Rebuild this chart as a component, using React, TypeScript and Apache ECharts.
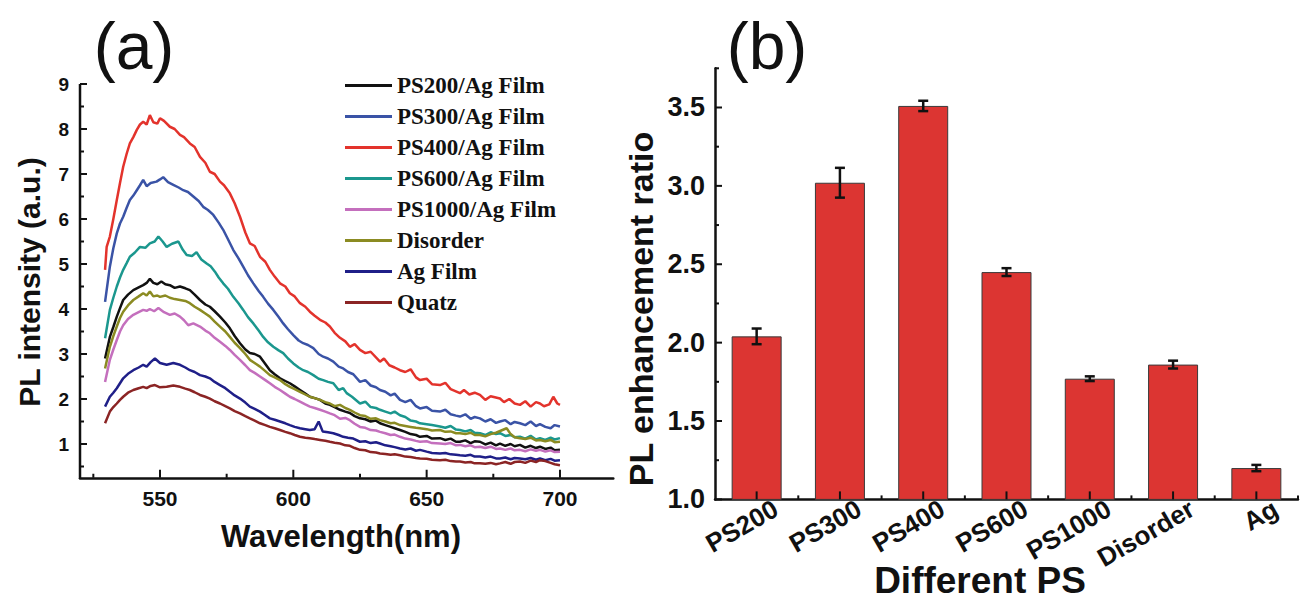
import React, { useEffect, useRef } from 'react';
import * as echarts from 'echarts';

// ---------- Panel (a): PL spectra, [wavelength nm, intensity a.u.] ----------
const ps200Film = [[529.4,2.9],[531.2,3.38],[532.5,3.6],[533.8,3.83],[535,4.02],[536.2,4.2],[538,4.32],[540,4.42],[542,4.48],[543.7,4.53],[545,4.58],[546.2,4.67],[547.5,4.58],[549,4.55],[550.5,4.61],[552,4.55],[553.7,4.53],[555.5,4.47],[557.5,4.5],[559.5,4.46],[561.2,4.42],[563,4.32],[565,4.2],[567,4.1],[568.7,4.05],[570.5,3.95],[572.5,3.83],[574.5,3.7],[576.2,3.57],[578,3.4],[580,3.24],[582,3.1],[583.7,3.02],[585.5,3.0],[587.5,2.94],[589.5,2.78],[591.2,2.64],[593,2.55],[595,2.46],[597,2.4],[598.7,2.35],[600.5,2.28],[602.5,2.2],[604.5,2.12],[606.2,2.05],[608,2.02],[610,1.98],[612,1.9],[613.7,1.87],[615.5,1.82],[617.5,1.76],[619.5,1.72],[621.2,1.69],[623,1.62],[625,1.57],[627,1.55],[629,1.5],[631,1.52],[632.5,1.46],[634.5,1.42],[636.5,1.38],[638,1.35],[640,1.31],[642,1.27],[644,1.22],[646,1.2],[647.5,1.16],[650,1.18],[652,1.12],[655,1.13],[657,1.09],[659,1.12],[661,1.05],[662.5,1.05],[664.5,1.08],[666.5,1.02],[668,1.06],[670,1.05],[672,0.99],[674,1.03],[676,0.97],[677.5,1.01],[679.5,0.96],[681.5,1.0],[683,0.95],[685,0.98],[687,0.92],[689,0.96],[691,0.91],[692.5,0.94],[694.5,0.89],[696.5,0.92],[698,0.86],[700,0.87]];
const ps300Film = [[529.4,4.16],[531.2,4.94],[532.5,5.35],[533.8,5.68],[535,5.9],[536.2,6.05],[537.5,6.25],[538.7,6.42],[540,6.52],[541.3,6.64],[542.5,6.75],[543.7,6.87],[545,6.73],[546.5,6.8],[548.7,6.83],[550,6.88],[551.2,6.93],[553,6.82],[555,6.76],[557,6.7],[558.7,6.64],[560.5,6.6],[562.5,6.5],[564.5,6.4],[566.2,6.27],[568,6.2],[570,6.09],[572,5.92],[573.7,5.76],[575.5,5.55],[577.5,5.31],[579.5,5.12],[581.2,4.94],[583,4.75],[585,4.57],[587,4.4],[588.7,4.27],[590.5,4.12],[592.5,3.98],[594.5,3.82],[596.2,3.68],[598,3.55],[600,3.42],[602,3.3],[603.7,3.24],[605.5,3.2],[607.5,3.13],[609.5,3.0],[611.2,2.94],[613,2.9],[615,2.83],[617,2.72],[618.7,2.68],[620.5,2.6],[622.5,2.55],[625,2.38],[627,2.42],[629,2.3],[631,2.26],[632.5,2.2],[634.5,2.16],[636.5,2.08],[638,2.12],[640,1.98],[642,1.93],[644,1.98],[646,1.84],[647.5,1.79],[650,1.82],[652,1.74],[655,1.72],[657,1.76],[659,1.66],[661,1.63],[662.5,1.61],[664.5,1.66],[666.5,1.56],[668,1.6],[670,1.57],[672,1.5],[674,1.55],[676,1.47],[677.5,1.5],[679.5,1.53],[681.5,1.44],[683,1.49],[685,1.46],[687,1.42],[689,1.5],[691,1.4],[692.5,1.44],[694.5,1.38],[696.5,1.35],[698,1.42],[700,1.39]];
const ps400Film = [[529.4,4.87],[530,5.38],[531.2,5.61],[532.5,6.0],[533.8,6.42],[535,6.8],[536.2,7.16],[537.5,7.45],[538.7,7.68],[540,7.82],[541.3,7.98],[542.5,8.1],[543.7,8.16],[545,8.1],[546.2,8.31],[547.5,8.15],[549,8.12],[550,8.24],[551.5,8.18],[553.7,8.05],[555.5,8.0],[557.5,7.87],[559,7.82],[561.2,7.68],[563,7.6],[565,7.38],[567,7.25],[568.7,7.05],[570.5,7.0],[572.5,6.83],[574,6.75],[576.2,6.57],[578,6.35],[580,6.05],[582,5.7],[583.7,5.46],[585.5,5.4],[587.5,5.16],[589.5,5.05],[591.2,4.87],[593,4.72],[595,4.57],[597,4.5],[598.7,4.35],[600.5,4.28],[602.5,4.13],[604.5,4.05],[606.2,3.94],[608,3.85],[610,3.76],[612,3.7],[613.7,3.61],[615.5,3.47],[617.5,3.36],[619.5,3.28],[621.2,3.16],[623,3.22],[625,3.09],[627,3.02],[629,3.05],[632.5,2.83],[634,2.9],[636,2.75],[638,2.7],[640,2.64],[642,2.6],[644,2.66],[646,2.48],[647.5,2.42],[650,2.45],[652,2.33],[655,2.31],[657,2.36],[659,2.22],[662.5,2.13],[664,2.2],[666,2.1],[668,2.14],[670,2.09],[672,1.98],[674,2.06],[677.5,2.01],[679,1.93],[681,2.0],[683,1.9],[685,1.87],[687,1.95],[689,1.83],[691,1.93],[692.5,1.9],[694,1.84],[696,1.88],[697.5,2.05],[699,1.9],[700,1.87]];
const ps600Film = [[529.4,3.35],[531.2,3.98],[532.5,4.25],[533.8,4.5],[535,4.7],[536.2,4.87],[537.5,5.02],[538.7,5.16],[540.5,5.25],[542.5,5.38],[544.5,5.36],[546.2,5.46],[548,5.5],[549.4,5.61],[551,5.5],[552.5,5.38],[554.5,5.45],[556.9,5.5],[558.5,5.32],[560,5.2],[562,5.18],[563.7,5.26],[565.5,5.1],[567.5,5.01],[569,4.95],[570.6,4.83],[572,4.7],[573.7,4.57],[575.5,4.45],[577.5,4.27],[579.5,4.12],[581.2,3.98],[583,3.82],[585,3.68],[587,3.52],[588.7,3.38],[590.5,3.26],[592.5,3.16],[594.5,3.08],[596.2,3.02],[598,2.9],[600,2.79],[602,2.7],[603.7,2.64],[605.5,2.6],[607.5,2.53],[609.5,2.45],[611.2,2.42],[613,2.38],[615,2.35],[617,2.2],[618.7,2.24],[620,2.13],[622,2.05],[625,1.9],[627,1.94],[629,1.82],[631,1.8],[632.5,1.76],[634.5,1.72],[636.5,1.68],[638,1.72],[640,1.64],[642,1.6],[644,1.52],[646,1.5],[647.5,1.46],[650,1.44],[652,1.42],[655,1.39],[657,1.36],[659,1.4],[661,1.32],[662.5,1.31],[664.5,1.28],[666.5,1.31],[668,1.25],[670,1.24],[672,1.2],[674,1.26],[676,1.22],[677.5,1.24],[679.5,1.18],[681.5,1.2],[683,1.15],[685,1.16],[687,1.12],[689,1.18],[691,1.1],[692.5,1.13],[694.5,1.09],[696.5,1.14],[698,1.1],[700,1.13]];
const ps1000Film = [[529.4,2.38],[531.2,2.87],[532.5,3.1],[533.8,3.31],[535,3.5],[536.2,3.64],[538,3.78],[540,3.87],[542,3.93],[543.7,3.98],[545,3.96],[546.2,4.0],[547.8,3.95],[549.4,4.02],[551.5,3.93],[553.7,3.87],[555.5,3.9],[557.5,3.83],[559,3.75],[560.6,3.64],[562.5,3.68],[565,3.61],[567,3.52],[568.7,3.46],[570.5,3.36],[572.5,3.27],[574.5,3.18],[576.2,3.09],[578,2.98],[580,2.87],[582,2.75],[583.7,2.64],[585.5,2.58],[587.5,2.5],[589.5,2.42],[591.2,2.35],[593,2.27],[595,2.2],[597,2.12],[598.7,2.05],[600.5,2.0],[602.5,1.94],[604.5,1.88],[606.2,1.83],[608,1.8],[610,1.76],[612,1.72],[613.7,1.68],[615.5,1.64],[617.5,1.56],[619.5,1.58],[621.2,1.53],[623,1.45],[625,1.38],[627,1.36],[629,1.31],[631,1.3],[632.5,1.27],[634.5,1.24],[636.5,1.2],[638,1.21],[640,1.16],[642,1.12],[644,1.1],[646,1.07],[647.5,1.05],[650,1.06],[652,1.02],[655,1.01],[657,1.0],[659,1.02],[661,0.97],[662.5,0.98],[664.5,0.95],[666.5,0.97],[668,0.93],[670,0.94],[672,0.91],[674,0.94],[676,0.89],[677.5,0.9],[679.5,0.87],[681.5,0.9],[683,0.86],[685,0.87],[687,0.84],[689,0.88],[691,0.85],[692.5,0.87],[694.5,0.83],[696.5,0.86],[698,0.82],[700,0.83]];
const disorder = [[529.4,2.68],[531.2,3.16],[532.5,3.4],[533.8,3.61],[535,3.8],[536.2,3.94],[538,4.08],[540,4.2],[542,4.28],[543.7,4.35],[545,4.3],[546.2,4.39],[547.5,4.28],[549,4.3],[550,4.27],[552,4.3],[553.7,4.25],[555.5,4.22],[557.5,4.2],[559.5,4.18],[561.2,4.13],[563,4.05],[565,3.98],[567,3.9],[568.7,3.83],[570.5,3.72],[572.5,3.61],[574.5,3.5],[576.2,3.38],[578,3.25],[580,3.13],[582,3.0],[583.7,2.87],[585.5,2.8],[587.5,2.72],[589.5,2.62],[591.2,2.53],[593,2.48],[595,2.42],[597,2.33],[598.7,2.27],[600.5,2.22],[602.5,2.16],[604.5,2.1],[606.2,2.05],[608,2.02],[610,1.98],[612,1.93],[613.7,1.9],[615.5,1.84],[617.5,1.87],[619.5,1.8],[621.2,1.76],[623,1.7],[625,1.64],[627,1.62],[629,1.56],[631,1.57],[632.5,1.53],[634.5,1.5],[636.5,1.46],[638,1.47],[640,1.42],[642,1.4],[644,1.38],[646,1.36],[647.5,1.35],[650,1.33],[652,1.3],[655,1.31],[657,1.27],[659,1.28],[661,1.24],[662.5,1.24],[664.5,1.22],[666.5,1.25],[668,1.2],[670,1.2],[672,1.17],[674,1.22],[676,1.25],[678,1.3],[680,1.35],[681.5,1.22],[683,1.15],[685,1.13],[687,1.11],[689,1.14],[691,1.08],[692.5,1.09],[694.5,1.06],[696.5,1.09],[698,1.04],[700,1.05]];
const agFilm = [[529.4,1.83],[531.2,2.05],[532.5,2.14],[533.8,2.24],[535,2.35],[536.2,2.46],[538,2.56],[540,2.64],[542,2.7],[543.7,2.76],[545,2.72],[546.5,2.82],[548.1,2.9],[550,2.8],[552.5,2.76],[555,2.8],[557.5,2.76],[559.5,2.7],[561.2,2.64],[563,2.6],[565,2.53],[567,2.5],[568.7,2.46],[570.5,2.38],[572.5,2.31],[574.5,2.24],[576.2,2.16],[578,2.08],[580,2.01],[582,1.92],[583.7,1.83],[585.5,1.78],[587.5,1.72],[589.5,1.64],[591.2,1.57],[593,1.54],[595,1.5],[597,1.46],[598.7,1.42],[600.5,1.38],[602.5,1.35],[604.5,1.33],[606.2,1.31],[608,1.33],[609.5,1.5],[611,1.28],[613,1.26],[615,1.24],[617,1.2],[618.7,1.16],[620.5,1.14],[622.5,1.12],[625,1.05],[627,1.06],[629,1.02],[631,1.04],[632.5,1.01],[634.5,0.97],[636.5,0.95],[638,0.93],[640,0.9],[642,0.88],[644,0.9],[646,0.85],[647.5,0.87],[650,0.83],[652,0.8],[655,0.79],[657,0.8],[659,0.77],[661,0.76],[662.5,0.75],[664.5,0.74],[666.5,0.76],[668,0.72],[670,0.72],[672,0.7],[674,0.72],[676,0.68],[677.5,0.68],[679.5,0.7],[681.5,0.66],[683,0.69],[685,0.68],[687,0.66],[689,0.69],[691,0.65],[692.5,0.68],[694.5,0.64],[696.5,0.67],[698,0.63],[700,0.64]];
const quatz = [[529.4,1.46],[531.2,1.72],[532.5,1.82],[533.8,1.9],[535,1.98],[536.2,2.05],[538,2.14],[540,2.2],[542,2.24],[543.7,2.27],[545,2.24],[546.5,2.29],[548.1,2.31],[550,2.26],[552.5,2.27],[555,2.3],[557.5,2.27],[559.5,2.23],[561.2,2.2],[563,2.15],[565,2.09],[567,2.05],[568.7,2.01],[570.5,1.95],[572.5,1.9],[574.5,1.84],[576.2,1.79],[578,1.73],[580,1.68],[582,1.62],[583.7,1.57],[585.5,1.52],[587.5,1.46],[589.5,1.42],[591.2,1.38],[593,1.35],[595,1.31],[597,1.27],[598.7,1.24],[600.5,1.2],[602.5,1.16],[604.5,1.14],[606.2,1.13],[608,1.11],[610,1.09],[612,1.07],[613.7,1.05],[615.5,1.03],[617.5,1.01],[619.5,0.97],[621.2,0.96],[623,0.91],[625,0.87],[627,0.86],[629,0.82],[631,0.81],[632.5,0.79],[634.5,0.78],[636.5,0.76],[638,0.77],[640,0.75],[642,0.72],[644,0.71],[646,0.69],[647.5,0.68],[650,0.67],[652,0.65],[655,0.64],[657,0.65],[659,0.62],[661,0.61],[662.5,0.61],[664.5,0.59],[666.5,0.6],[668,0.57],[670,0.57],[672,0.56],[674,0.58],[676,0.55],[677.5,0.57],[679.5,0.6],[681.5,0.56],[683,0.6],[685,0.61],[687,0.58],[689,0.63],[691,0.6],[692.5,0.64],[694.5,0.62],[696.5,0.58],[698,0.55],[700,0.53]];

const spectraNames = ['PS200/Ag Film', 'PS300/Ag Film', 'PS400/Ag Film', 'PS600/Ag Film', 'PS1000/Ag Film', 'Disorder', 'Ag Film', 'Quatz'];
const spectraData = [ps200Film, ps300Film, ps400Film, ps600Film, ps1000Film, disorder, agFilm, quatz];
const spectraColors = ['#111111', '#3a53a6', '#e3332c', '#1b978e', '#c46fbd', '#8b8b22', '#1f1f88', '#8b2424'];

// Axis ranges and tick values of panel (a)
const WL_MIN = 520;
const WL_MAX = 720;
const PL_MIN = 0.25;
const PL_MAX = 9;
const wlMajorTicks = [550, 600, 650, 700];
const wlMinorTicks = [525, 575, 625, 675];
const plMajorTicks = [1, 2, 3, 4, 5, 6, 7, 8, 9];
const plMinorTicks = [0.5, 1.5, 2.5, 3.5, 4.5, 5.5, 6.5, 7.5, 8.5];

// ---------- Panel (b): PL enhancement ratio ----------
const psCategories = ['PS200', 'PS300', 'PS400', 'PS600', 'PS1000', 'Disorder', 'Ag'];
const enhancementRatio = [2.04, 3.02, 3.51, 2.45, 1.77, 1.86, 1.2];
const ratioError = [0.05, 0.095, 0.033, 0.025, 0.015, 0.025, 0.02];
const RATIO_MIN = 1;
const RATIO_MAX = 3.75;
const ratioMajorTicks = [1, 1.5, 2, 2.5, 3, 3.5];
const ratioMinorTicks = [1.25, 1.75, 2.25, 2.75, 3.25, 3.75];

const SANS = '"Liberation Sans", Arial, sans-serif';
const SERIF = '"Liberation Serif", "Times New Roman", serif';
const AX = '#111111';

function buildOption() {
  const lineSeries = spectraNames.map((name, i) => ({
    name,
    type: 'line',
    xAxisIndex: 0,
    yAxisIndex: 0,
    data: spectraData[i],
    symbol: 'none',
    color: spectraColors[i],
    lineStyle: { width: 2.5, color: spectraColors[i] },
    z: 3,
  }));

  const errData = psCategories.map((c, i) => [i, enhancementRatio[i] - ratioError[i], enhancementRatio[i] + ratioError[i]]);

  // [kind, value, length]; kind 0 = x tick, 1 = y tick, 2 = y axis line, 3 = category boundary tick
  const ticksA = [
    ...wlMajorTicks.map((v) => [0, v, 8]),
    ...wlMinorTicks.map((v) => [0, v, 4]),
    ...plMajorTicks.map((v) => [1, v, 7]),
    ...plMinorTicks.map((v) => [1, v, 4]),
    [2, 0, 0],
  ];
  const ticksB = [
    ...psCategories.map((c, i) => [0, i, 8]),
    ...psCategories.map((c, i) => [3, i, 4]),
    ...ratioMajorTicks.map((v) => [1, v, 7]),
    ...ratioMinorTicks.map((v) => [1, v, 4]),
  ];
  const tickStyle = { stroke: AX, lineWidth: 2 };

  const txt = (text: string, x: number, y: number, font: string, rotation = 0) => ({
    type: 'text',
    x,
    y,
    rotation,
    style: { text, font, fill: AX, align: 'center', verticalAlign: 'middle' },
  });

  return {
    animation: false,
    backgroundColor: '#ffffff',
    grid: [
      { left: 80, top: 84, width: 533.3, height: 393.75 },
      { left: 715, top: 68.3, width: 583, height: 431.1 },
    ],
    legend: {
      data: spectraNames,
      orient: 'vertical',
      left: 340,
      top: 69,
      icon: 'rect',
      itemWidth: 47,
      itemHeight: 3,
      itemGap: 8,
      textStyle: { fontFamily: SERIF, fontWeight: 'bold', fontSize: 23, color: AX, lineHeight: 22 },
    },
    xAxis: [
      {
        gridIndex: 0, type: 'value', position: 'bottom', min: WL_MIN, max: WL_MAX, splitNumber: 4, minInterval: 50, maxInterval: 50,
        axisLine: { show: true, onZero: false, lineStyle: { color: AX, width: 2.5 } },
        axisTick: { show: false },
        axisLabel: { show: true, showMinLabel: false, showMaxLabel: false, margin: 10, fontFamily: SANS, fontWeight: 'bold', fontSize: 21, color: AX },
        splitLine: { show: false },
      },
      {
        gridIndex: 1, type: 'category', position: 'bottom', data: psCategories, boundaryGap: true,
        axisLine: { show: true, onZero: false, lineStyle: { color: AX, width: 2.5 } },
        axisTick: { show: false },
        axisLabel: {
          show: true, interval: 0, rotate: 30, margin: 18, padding: [0, -22, 0, 0],
          fontFamily: SANS, fontWeight: 'bold', fontSize: 26, color: AX,
        },
      },
    ],
    yAxis: [
      {
        gridIndex: 0, type: 'value', position: 'left', min: PL_MIN, max: PL_MAX, splitNumber: 9, minInterval: 1, maxInterval: 1,
        axisLine: { show: false },
        axisTick: { show: false },
        axisLabel: { show: true, showMinLabel: false, margin: 11, fontFamily: SANS, fontWeight: 'bold', fontSize: 19, color: AX },
        splitLine: { show: false },
      },
      {
        gridIndex: 1, type: 'value', position: 'left', min: RATIO_MIN, max: RATIO_MAX, interval: 0.5,
        axisLine: { show: true, onZero: false, lineStyle: { color: AX, width: 2.5 } },
        axisTick: { show: false },
        axisLabel: {
          show: true, showMaxLabel: false, margin: 10, fontFamily: SANS, fontWeight: 'bold', fontSize: 27, color: AX,
          formatter: (v: number) => Number(v).toFixed(1),
        },
        splitLine: { show: false },
      },
    ],
    series: [
      ...lineSeries,
      {
        name: 'ratio',
        type: 'bar',
        xAxisIndex: 1,
        yAxisIndex: 1,
        data: enhancementRatio,
        barWidth: 50,
        itemStyle: { color: '#dc3532', borderColor: '#3a3a3a', borderWidth: 1 },
        z: 2,
      },
      {
        name: 'error',
        type: 'custom',
        xAxisIndex: 1,
        yAxisIndex: 1,
        data: errData,
        encode: { x: 0, y: [1, 2] },
        z: 5,
        renderItem: (params: any, api: any) => {
          const idx = api.value(0);
          const lo = api.coord([idx, api.value(1)]);
          const hi = api.coord([idx, api.value(2)]);
          const w = 5;
          const st = { stroke: '#111111', lineWidth: 2.5 };
          return {
            type: 'group',
            children: [
              { type: 'line', shape: { x1: lo[0], y1: lo[1], x2: hi[0], y2: hi[1] }, style: st },
              { type: 'line', shape: { x1: lo[0] - w, y1: lo[1], x2: lo[0] + w, y2: lo[1] }, style: st },
              { type: 'line', shape: { x1: hi[0] - w, y1: hi[1], x2: hi[0] + w, y2: hi[1] }, style: st },
            ],
          };
        },
      },
      {
        name: 'ticksA',
        type: 'custom',
        xAxisIndex: 0,
        yAxisIndex: 0,
        data: ticksA,
        clip: false,
        silent: true,
        z: 10,
        renderItem: (params: any, api: any) => {
          const kind = api.value(0);
          const v = api.value(1);
          const len = api.value(2);
          if (kind === 0) {
            const p = api.coord([v, PL_MIN]);
            return { type: 'line', shape: { x1: p[0], y1: p[1], x2: p[0], y2: p[1] - len }, style: tickStyle };
          }
          if (kind === 1) {
            const p = api.coord([WL_MIN, v]);
            return { type: 'line', shape: { x1: p[0], y1: p[1], x2: p[0] + len, y2: p[1] }, style: tickStyle };
          }
          const a = api.coord([WL_MIN, PL_MIN]);
          const b = api.coord([WL_MIN, PL_MAX]);
          return { type: 'line', shape: { x1: a[0], y1: a[1] + 1.25, x2: b[0], y2: b[1] }, style: { stroke: AX, lineWidth: 2.5 } };
        },
      },
      {
        name: 'ticksB',
        type: 'custom',
        xAxisIndex: 1,
        yAxisIndex: 1,
        data: ticksB,
        clip: false,
        silent: true,
        z: 10,
        renderItem: (params: any, api: any) => {
          const kind = api.value(0);
          const v = api.value(1);
          const len = api.value(2);
          const band = api.size([1, 0])[0];
          if (kind === 0 || kind === 3) {
            const p = api.coord([v, RATIO_MIN]);
            const x = kind === 0 ? p[0] : p[0] + band / 2;
            return { type: 'line', shape: { x1: x, y1: p[1], x2: x, y2: p[1] - len }, style: tickStyle };
          }
          const p = api.coord([0, v]);
          const x0 = p[0] - band / 2;
          return { type: 'line', shape: { x1: x0, y1: p[1], x2: x0 + len, y2: p[1] }, style: tickStyle };
        },
      },
    ],
    graphic: [
      txt('(a)', 134, 46, `normal 66px ${SANS}`),
      txt('(b)', 767, 46, `normal 66px ${SANS}`),
      txt('PL intensity (a.u.)', 29, 282, `bold 30px ${SANS}`, Math.PI / 2),
      txt('Wavelength(nm)', 341, 536, `bold 31px ${SANS}`),
      txt('PL enhancement ratio', 641, 309, `bold 34px ${SANS}`, Math.PI / 2),
      txt('Different PS', 980, 580, `bold 37px ${SANS}`),
    ],
  };
}

export default function App() {
  const ref = useRef<HTMLDivElement>(null);
  useEffect(() => {
    if (!ref.current) return;
    const chart = echarts.init(ref.current, null, { renderer: 'svg' });
    chart.setOption(buildOption() as any);
    return () => chart.dispose();
  }, []);
  return (
    <div
      ref={ref}
      style={{ position: 'fixed', left: 0, top: 0, width: 1303, height: 600, background: '#ffffff' }}
    />
  );
}
